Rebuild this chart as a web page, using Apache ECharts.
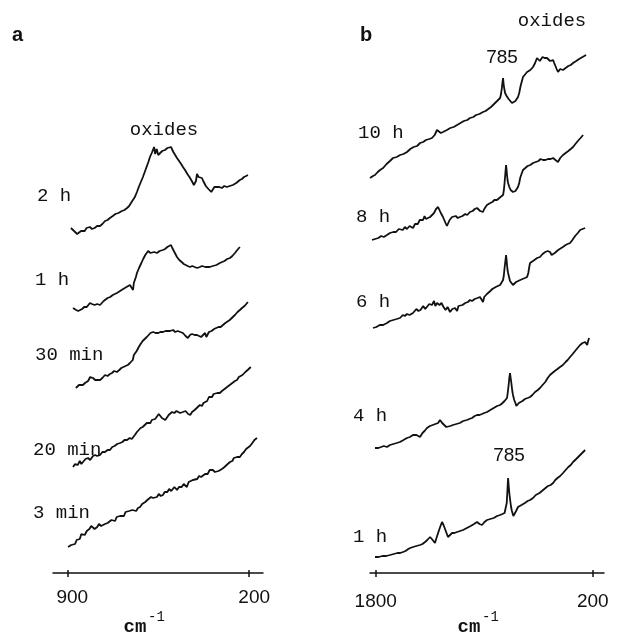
<!DOCTYPE html>
<html>
<head>
<meta charset="utf-8">
<script src="https://cdn.jsdelivr.net/npm/echarts@6/dist/echarts.min.js"></script>
<style>
  html, body { margin: 0; padding: 0; background: #fff; }
  #main { width: 618px; height: 637px; }
</style>
</head>
<body>
<div id="main"></div>
<script>
// panel a, 900 -> 200 cm-1, [wavenumber, intensity]
var a_2h = [[886,345],[878,343],[870,341],[862,339],[855,340],[847,342],[840,343],[833,342],[826,345],[820,346],[813,346],[805,344],[795,345],[785,347],[774,347],[765,349],[755,352],[745,353],[736,355],[725,357],[715,359],[703,360],[690,362],[680,363],[670,365],[662,367],[655,370],[648,372],[640,376],[632,381],[625,386],[617,391],[609,396],[602,401],[595,406],[588,411],[582,416],[575,420],[570,421],[566,426],[562,419],[556,424],[550,418],[543,418],[535,422],[529,421],[524,423],[515,425],[508,424],[501,426],[496,424],[492,421],[485,418],[478,415],[470,412],[462,409],[455,406],[447,403],[438,399],[430,396],[421,392],[413,388],[405,392],[401,399],[395,396],[388,396],[382,395],[377,392],[372,390],[367,387],[363,385],[357,384],[352,383],[346,381],[340,380],[334,386],[329,384],[324,386],[315,386],[305,385],[296,387],[286,386],[275,387],[263,388],[256,389],[250,390],[243,391],[236,393],[228,394],[220,396],[212,397],[205,398]];
var a_1h = [[878,265],[872,264],[866,263],[858,262],[851,261],[843,264],[835,266],[825,266],[820,268],[813,270],[805,269],[795,268],[785,269],[774,268],[760,272],[745,275],[735,276],[725,278],[718,277],[709,280],[697,282],[685,284],[672,286],[659,288],[652,290],[647,283],[644,290],[640,292],[636,296],[632,300],[624,305],[615,310],[608,314],[600,318],[594,320],[589,322],[585,322],[580,320],[575,319],[566,321],[560,319],[555,320],[545,322],[538,321],[532,323],[524,324],[515,326],[508,326],[501,328],[496,325],[490,322],[484,319],[478,316],[469,313],[460,311],[452,309],[445,308],[437,307],[428,306],[419,307],[410,306],[400,305],[390,306],[382,307],[375,305],[369,306],[363,305],[352,306],[340,307],[326,308],[313,310],[304,311],[295,312],[285,314],[274,315],[265,317],[255,320],[246,323],[236,326]];
var a_30min = [[867,185],[862,187],[855,188],[848,190],[840,188],[832,190],[826,192],[820,192],[812,196],[806,194],[801,195],[793,193],[785,193],[778,194],[774,193],[765,195],[755,198],[745,197],[736,199],[728,200],[720,202],[709,201],[700,203],[692,205],[685,206],[676,207],[667,208],[659,210],[654,211],[648,213],[644,218],[640,218],[633,222],[625,226],[618,229],[610,232],[602,234],[594,236],[587,238],[580,240],[575,239],[570,241],[560,240],[550,240],[542,241],[532,241],[522,242],[515,243],[505,242],[493,243],[485,241],[475,242],[465,241],[455,240],[450,238],[445,237],[440,236],[436,235],[428,238],[420,239],[410,238],[401,238],[395,236],[385,236],[378,238],[370,240],[365,236],[360,237],[355,241],[351,243],[345,242],[335,244],[327,245],[318,246],[310,246],[301,248],[292,250],[285,251],[275,253],[263,256],[255,258],[245,261],[236,263],[228,265],[218,267],[205,271]];
var a_20min = [[878,106],[870,109],[860,108],[852,112],[846,109],[840,110],[830,114],[820,115],[812,113],[801,117],[793,118],[785,117],[774,118],[765,121],[755,121],[745,123],[736,123],[727,126],[718,127],[708,129],[697,130],[688,131],[680,133],[670,133],[660,135],[652,134],[647,136],[640,138],[632,141],[625,142],[618,145],[610,146],[602,148],[594,150],[587,149],[580,150],[575,153],[570,151],[562,154],[555,156],[548,159],[543,158],[536,155],[530,154],[523,153],[517,153],[510,158],[505,160],[497,161],[488,160],[480,162],[475,161],[466,160],[455,161],[445,162],[435,159],[427,158],[420,161],[417,160],[410,163],[405,164],[398,166],[390,168],[382,167],[376,170],[370,171],[362,172],[355,176],[351,175],[343,176],[337,179],[332,178],[323,180],[318,182],[313,180],[305,182],[295,184],[288,186],[280,187],[274,188],[265,190],[255,192],[247,193],[240,196],[236,196],[226,198],[215,201],[206,203],[200,205],[194,206]];
var a_3min = [[897,26],[890,25],[885,28],[878,27],[870,29],[864,33],[858,35],[852,34],[846,39],[840,40],[833,38],[825,42],[820,41],[815,44],[808,47],[801,46],[795,44],[785,46],[778,49],[770,47],[763,45],[755,49],[745,50],[738,48],[730,53],[724,53],[716,52],[710,56],[705,55],[697,57],[690,58],[682,57],[676,61],[670,60],[662,62],[656,61],[650,63],[643,65],[635,62],[628,65],[620,66],[612,69],[606,68],[600,71],[592,73],[585,72],[578,76],[570,75],[563,74],[555,76],[548,79],[540,77],[532,78],[525,81],[515,81],[508,84],[500,82],[495,83],[488,86],[478,83],[470,86],[460,86],[452,89],[446,88],[440,86],[433,91],[425,92],[417,93],[410,95],[400,94],[393,97],[385,96],[378,95],[370,99],[360,99],[352,103],[346,101],[340,103],[332,101],[325,100],[318,102],[313,101],[305,104],[295,106],[287,108],[280,110],[274,111],[265,112],[259,115],[255,114],[247,116],[242,118],[236,116],[228,119],[220,121],[212,124],[205,126],[197,127],[188,130],[180,133],[170,135]];

// panel b, 1800 -> 200 cm-1
var b_10h = [[1842,395],[1820,397],[1805,398],[1785,401],[1768,403],[1745,405],[1720,409],[1695,412],[1672,415],[1645,416],[1620,418],[1595,419],[1569,421],[1545,424],[1520,426],[1495,427],[1473,430],[1450,431],[1430,433],[1405,434],[1385,435],[1365,438],[1348,443],[1335,441],[1320,440],[1304,441],[1275,443],[1250,445],[1225,446],[1200,448],[1175,450],[1150,452],[1125,453],[1105,455],[1080,456],[1060,458],[1035,459],[1009,461],[990,462],[970,464],[950,466],[935,468],[920,470],[905,472],[893,473],[883,475],[876,479],[870,485],[866,490],[861,495],[857,489],[853,485],[846,480],[835,477],[820,474],[808,472],[795,470],[782,471],[770,472],[760,474],[751,476],[742,480],[735,485],[730,488],[722,492],[714,496],[700,498],[684,501],[672,502],[660,503],[650,505],[640,506],[632,508],[625,510],[618,512],[611,515],[600,513],[590,512],[580,514],[570,516],[555,515],[537,515],[525,513],[515,512],[505,514],[492,513],[484,510],[475,508],[466,504],[456,501],[448,503],[440,504],[430,502],[419,503],[400,505],[380,507],[362,508],[345,510],[322,512],[300,514],[275,516],[249,518]];
var b_8h = [[1827,333],[1805,334],[1780,335],[1760,337],[1740,336],[1717,338],[1695,340],[1670,341],[1650,341],[1630,344],[1621,343],[1600,343],[1585,346],[1570,344],[1550,347],[1525,345],[1510,349],[1490,349],[1475,353],[1451,353],[1440,357],[1430,354],[1420,356],[1399,356],[1385,358],[1370,360],[1355,364],[1340,366],[1330,363],[1320,360],[1304,356],[1285,350],[1275,347],[1267,347],[1255,353],[1245,354],[1237,356],[1225,357],[1210,357],[1195,355],[1179,356],[1160,357],[1140,359],[1125,358],[1105,361],[1085,362],[1070,364],[1053,365],[1040,364],[1030,362],[1020,362],[1009,361],[1000,364],[990,366],[980,368],[972,370],[955,370],[940,371],[925,373],[906,373],[895,375],[880,376],[870,377],[861,378],[855,383],[850,390],[844,400],[839,408],[835,403],[832,398],[828,393],[824,390],[815,386],[805,383],[796,382],[788,381],[778,381],[770,382],[760,384],[751,386],[742,390],[735,395],[725,399],[714,403],[700,405],[680,407],[660,408],[640,410],[620,411],[600,412],[585,414],[566,413],[548,413],[530,414],[510,414],[492,415],[475,413],[456,411],[448,413],[440,415],[430,416],[419,418],[400,420],[380,422],[362,424],[345,426],[328,429],[310,432],[290,435],[271,438]];
var b_6h = [[1820,245],[1795,246],[1770,248],[1745,248],[1717,250],[1695,252],[1670,253],[1645,254],[1621,255],[1600,258],[1585,257],[1570,259],[1550,258],[1525,260],[1500,264],[1485,262],[1470,263],[1450,267],[1435,264],[1422,265],[1405,269],[1385,268],[1370,272],[1360,267],[1348,270],[1330,268],[1315,270],[1300,266],[1285,263],[1270,266],[1252,261],[1235,264],[1215,265],[1200,262],[1190,267],[1178,266],[1160,268],[1150,266],[1140,270],[1120,271],[1105,273],[1090,272],[1070,274],[1050,275],[1031,276],[1020,274],[1009,271],[1000,276],[990,278],[980,279],[972,281],[955,282],[940,284],[930,285],[915,286],[900,287],[883,288],[870,290],[861,293],[855,298],[850,305],[844,312],[839,318],[835,313],[832,308],[828,303],[824,300],[817,296],[810,292],[800,290],[788,288],[776,290],[765,291],[750,292],[736,293],[718,294],[700,295],[684,296],[675,300],[668,306],[662,310],[648,311],[630,313],[610,315],[589,316],[570,319],[550,321],[532,322],[515,321],[503,318],[492,316],[480,320],[470,322],[455,323],[441,325],[420,326],[400,328],[385,329],[367,330],[350,333],[330,337],[310,340],[293,343],[275,344],[256,345]];
var b_4h = [[1805,125],[1780,125],[1760,126],[1740,127],[1717,126],[1695,128],[1670,129],[1645,130],[1621,131],[1595,133],[1570,135],[1548,136],[1525,138],[1500,138],[1473,136],[1455,140],[1440,142],[1422,145],[1400,147],[1380,148],[1360,149],[1340,150],[1326,153],[1310,150],[1295,148],[1280,146],[1267,145],[1250,147],[1230,148],[1205,149],[1180,150],[1155,152],[1127,153],[1110,154],[1090,155],[1070,157],[1053,158],[1035,158],[1016,159],[1000,160],[979,161],[955,163],[930,165],[905,167],[883,168],[865,170],[850,172],[840,173],[832,175],[826,181],[820,188],[815,195],[810,200],[805,195],[800,190],[794,183],[788,178],[779,173],[770,170],[763,167],[758,165],[750,168],[745,170],[736,171],[718,172],[700,174],[680,175],[662,176],[645,178],[625,181],[605,183],[589,185],[570,188],[550,191],[532,195],[515,198],[498,200],[480,202],[460,204],[441,206],[420,208],[400,211],[385,213],[367,216],[348,219],[330,222],[312,225],[293,228],[275,230],[256,231],[248,230],[241,228],[234,232],[227,235]];
var b_1h = [[1805,16],[1778,16],[1750,17],[1722,17],[1694,18],[1667,19],[1640,20],[1620,20],[1599,21],[1580,22],[1560,24],[1545,25],[1525,26],[1500,27],[1473,28],[1455,29],[1436,31],[1428,32],[1420,33],[1410,35],[1399,36],[1390,34],[1380,33],[1372,31],[1363,30],[1352,35],[1340,40],[1325,46],[1311,51],[1305,50],[1300,48],[1295,47],[1289,46],[1278,40],[1267,36],[1252,38],[1237,40],[1220,40],[1200,41],[1178,42],[1156,43],[1128,45],[1100,47],[1075,49],[1053,51],[1035,49],[1016,48],[998,51],[979,53],[955,54],[930,55],[905,57],[883,58],[866,59],[850,60],[844,60],[839,61],[834,70],[830,80],[827,88],[824,95],[820,88],[815,80],[808,72],[802,66],[796,62],[790,60],[785,57],[780,56],[772,59],[765,62],[758,64],[751,66],[725,68],[700,70],[680,72],[662,73],[640,75],[620,78],[592,80],[566,83],[548,85],[530,87],[510,88],[492,90],[476,93],[460,95],[440,97],[419,100],[400,103],[380,106],[362,108],[345,111],[322,114],[300,117],[278,120],[256,123]];

var ticksA = [900, 200];
var ticksB = [1800, 200];

var ink = '#111';
var mono = '"Liberation Mono", "DejaVu Sans Mono", monospace';
var sans = '"Liberation Sans", Arial, sans-serif';

var chart = echarts.init(document.getElementById('main'));

function spec(data, xi) {
  return {
    type: 'line',
    data: data,
    xAxisIndex: xi,
    yAxisIndex: xi === 0 ? 0 : 1,
    showSymbol: false,
    smooth: false,
    silent: true,
    lineStyle: { color: ink, width: 1.8 }
  };
}

function mainAxis(grid, min, max, ticks, margin, pad) {
  return {
    type: 'value', gridIndex: grid, inverse: true, min: min, max: max,
    position: 'bottom',
    splitLine: { show: false },
    axisLine: { show: true, lineStyle: { color: ink, width: 1.5 } },
    axisTick: { show: true, customValues: ticks, length: 4, lineStyle: { color: ink, width: 1.5 } },
    axisLabel: {
      show: true, customValues: ticks, margin: margin, color: ink,
      fontSize: 19, fontFamily: sans, padding: pad,
      formatter: function (v) { return String(v); }
    }
  };
}

function innerTicks(grid, min, max, ticks) {
  return {
    type: 'value', gridIndex: grid, inverse: true, min: min, max: max,
    position: 'bottom',
    splitLine: { show: false },
    axisLine: { show: false },
    axisTick: { show: true, inside: true, customValues: ticks, length: 3, lineStyle: { color: ink, width: 1.5 } },
    axisLabel: { show: false }
  };
}

function txt(x, y, s, font, align) {
  return {
    type: 'text', x: x, y: y, silent: true,
    style: { text: s, font: font, fill: ink, textAlign: align || 'left', textVerticalAlign: 'middle' }
  };
}

var option = {
  animation: false,
  backgroundColor: '#fff',
  grid: [
    { left: 53, width: 210, top: 40, bottom: 64 },
    { left: 370, width: 234, top: 40, bottom: 64 }
  ],
  xAxis: [
    mainAxis(0, 147, 955, ticksA, 15, [0, 0, 0, 10]),
    mainAxis(1, 117, 1842, ticksB, 19, 0),
    innerTicks(0, 147, 955, ticksA),
    innerTicks(1, 117, 1842, ticksB)
  ],
  yAxis: [
    { type: 'value', gridIndex: 0, min: 0, max: 533, show: false },
    { type: 'value', gridIndex: 1, min: 0, max: 533, show: false }
  ],
  series: [
    spec(a_2h, 0), spec(a_1h, 0), spec(a_30min, 0), spec(a_20min, 0), spec(a_3min, 0),
    spec(b_10h, 1), spec(b_8h, 1), spec(b_6h, 1), spec(b_4h, 1), spec(b_1h, 1)
  ],
  graphic: [
    txt(12, 35, 'a', 'bold 20px ' + sans),
    txt(360, 35, 'b', 'bold 20px ' + sans),
    txt(164, 130, 'oxides', '19px ' + mono, 'center'),
    txt(552, 21, 'oxides', '19px ' + mono, 'center'),
    txt(502, 58, '785', '19px ' + sans, 'center'),
    txt(509, 456, '785', '19px ' + sans, 'center'),
    txt(37, 196, '2 h', '19px ' + mono),
    txt(35, 280, '1 h', '19px ' + mono),
    txt(35, 355, '30 min', '19px ' + mono),
    txt(33, 450, '20 min', '19px ' + mono),
    txt(33, 513, '3 min', '19px ' + mono),
    txt(358, 133, '10 h', '19px ' + mono),
    txt(356, 217, '8 h', '19px ' + mono),
    txt(356, 302, '6 h', '19px ' + mono),
    txt(353, 416, '4 h', '19px ' + mono),
    txt(353, 537, '1 h', '19px ' + mono),
    txt(135, 627, 'cm', 'bold 19px ' + mono, 'center'),
    txt(148, 617, '-1', '14px ' + mono),
    txt(469, 627, 'cm', 'bold 19px ' + mono, 'center'),
    txt(482, 617, '-1', '14px ' + mono)
  ]
};

chart.setOption(option);
</script>
</body>
</html>
